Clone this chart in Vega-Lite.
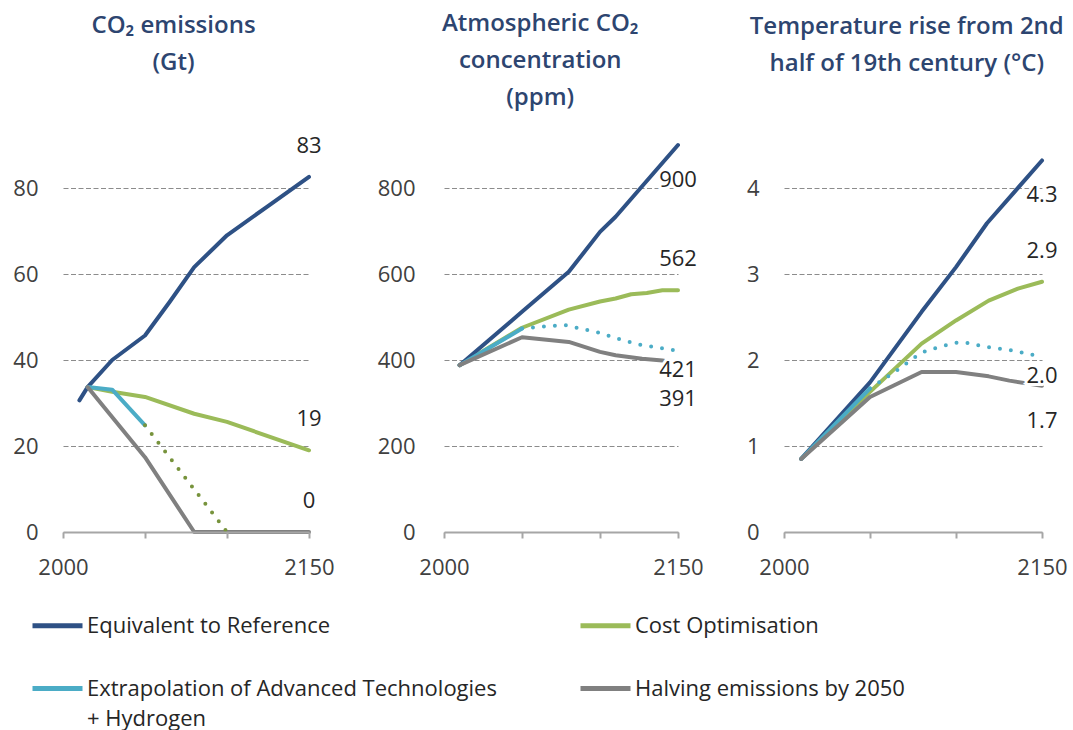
{
  "$schema": "https://vega.github.io/schema/vega-lite/v6.json",
  "background": "white",
  "padding": {"left": 12, "top": 12, "right": 5, "bottom": 2},
  "config": {
    "font": "Open Sans",
    "view": {"stroke": null},
    "concat": {"spacing": 42},
    "style": {"guide-label": {"lineHeight": 30}},
    "axis": {"title": null, "labelFont": "Open Sans", "labelFontSize": 22, "labelColor": "#404040"},
    "title": {"font": "Open Sans", "fontSize": 24, "fontWeight": 600, "color": "#2d4570", "anchor": "middle", "frame": "bounds", "lineHeight": 37},
    "legend": {"labelFont": "Open Sans", "labelFontSize": 22, "labelColor": "#262626"}
  },
  "datasets": {
    "lines": [
      {"panel": "co2", "series": "Cost Optimisation", "part": "main", "year": 2015, "value": 33.7},
      {"panel": "co2", "series": "Cost Optimisation", "part": "main", "year": 2030, "value": 32.6},
      {"panel": "co2", "series": "Cost Optimisation", "part": "main", "year": 2050, "value": 31.4},
      {"panel": "co2", "series": "Cost Optimisation", "part": "main", "year": 2080, "value": 27.5},
      {"panel": "co2", "series": "Cost Optimisation", "part": "main", "year": 2100, "value": 25.6},
      {"panel": "co2", "series": "Cost Optimisation", "part": "main", "year": 2150, "value": 19},
      {"panel": "co2", "series": "Equivalent to Reference", "part": "main", "year": 2010, "value": 30.6},
      {"panel": "co2", "series": "Equivalent to Reference", "part": "main", "year": 2015, "value": 33.7},
      {"panel": "co2", "series": "Equivalent to Reference", "part": "main", "year": 2030, "value": 40},
      {"panel": "co2", "series": "Equivalent to Reference", "part": "main", "year": 2050, "value": 45.7},
      {"panel": "co2", "series": "Equivalent to Reference", "part": "main", "year": 2065, "value": 53.5},
      {"panel": "co2", "series": "Equivalent to Reference", "part": "main", "year": 2080, "value": 61.6},
      {"panel": "co2", "series": "Equivalent to Reference", "part": "main", "year": 2100, "value": 69},
      {"panel": "co2", "series": "Equivalent to Reference", "part": "main", "year": 2125, "value": 75.8},
      {"panel": "co2", "series": "Equivalent to Reference", "part": "main", "year": 2150, "value": 82.6},
      {"panel": "co2", "series": "Extrapolation of Advanced Technologies + Hydrogen", "part": "main", "year": 2015, "value": 33.7},
      {"panel": "co2", "series": "Extrapolation of Advanced Technologies + Hydrogen", "part": "main", "year": 2030, "value": 33.1},
      {"panel": "co2", "series": "Extrapolation of Advanced Technologies + Hydrogen", "part": "main", "year": 2050, "value": 24.8},
      {"panel": "co2", "series": "Extrapolation of Advanced Technologies + Hydrogen", "part": "projection", "year": 2050, "value": 24.8},
      {"panel": "co2", "series": "Extrapolation of Advanced Technologies + Hydrogen", "part": "projection", "year": 2100, "value": 0},
      {"panel": "co2", "series": "Halving emissions by 2050", "part": "main", "year": 2015, "value": 33.7},
      {"panel": "co2", "series": "Halving emissions by 2050", "part": "main", "year": 2050, "value": 17.4},
      {"panel": "co2", "series": "Halving emissions by 2050", "part": "main", "year": 2080, "value": 0},
      {"panel": "co2", "series": "Halving emissions by 2050", "part": "main", "year": 2150, "value": 0},

      {"panel": "ppm", "series": "Cost Optimisation", "part": "main", "year": 2010, "value": 388},
      {"panel": "ppm", "series": "Cost Optimisation", "part": "main", "year": 2050, "value": 475},
      {"panel": "ppm", "series": "Cost Optimisation", "part": "main", "year": 2080, "value": 517},
      {"panel": "ppm", "series": "Cost Optimisation", "part": "main", "year": 2100, "value": 536},
      {"panel": "ppm", "series": "Cost Optimisation", "part": "main", "year": 2110, "value": 543},
      {"panel": "ppm", "series": "Cost Optimisation", "part": "main", "year": 2120, "value": 553},
      {"panel": "ppm", "series": "Cost Optimisation", "part": "main", "year": 2130, "value": 556},
      {"panel": "ppm", "series": "Cost Optimisation", "part": "main", "year": 2140, "value": 562},
      {"panel": "ppm", "series": "Cost Optimisation", "part": "main", "year": 2150, "value": 562},
      {"panel": "ppm", "series": "Equivalent to Reference", "part": "main", "year": 2010, "value": 388},
      {"panel": "ppm", "series": "Equivalent to Reference", "part": "main", "year": 2050, "value": 512},
      {"panel": "ppm", "series": "Equivalent to Reference", "part": "main", "year": 2080, "value": 605},
      {"panel": "ppm", "series": "Equivalent to Reference", "part": "main", "year": 2100, "value": 698},
      {"panel": "ppm", "series": "Equivalent to Reference", "part": "main", "year": 2110, "value": 733},
      {"panel": "ppm", "series": "Equivalent to Reference", "part": "main", "year": 2150, "value": 900},
      {"panel": "ppm", "series": "Extrapolation of Advanced Technologies + Hydrogen", "part": "main", "year": 2010, "value": 388},
      {"panel": "ppm", "series": "Extrapolation of Advanced Technologies + Hydrogen", "part": "main", "year": 2050, "value": 473},
      {"panel": "ppm", "series": "Extrapolation of Advanced Technologies + Hydrogen", "part": "projection", "year": 2050, "value": 473},
      {"panel": "ppm", "series": "Extrapolation of Advanced Technologies + Hydrogen", "part": "projection", "year": 2065, "value": 478},
      {"panel": "ppm", "series": "Extrapolation of Advanced Technologies + Hydrogen", "part": "projection", "year": 2078, "value": 481},
      {"panel": "ppm", "series": "Extrapolation of Advanced Technologies + Hydrogen", "part": "projection", "year": 2090, "value": 471},
      {"panel": "ppm", "series": "Extrapolation of Advanced Technologies + Hydrogen", "part": "projection", "year": 2100, "value": 463},
      {"panel": "ppm", "series": "Extrapolation of Advanced Technologies + Hydrogen", "part": "projection", "year": 2112, "value": 449},
      {"panel": "ppm", "series": "Extrapolation of Advanced Technologies + Hydrogen", "part": "projection", "year": 2125, "value": 436},
      {"panel": "ppm", "series": "Extrapolation of Advanced Technologies + Hydrogen", "part": "projection", "year": 2140, "value": 427},
      {"panel": "ppm", "series": "Extrapolation of Advanced Technologies + Hydrogen", "part": "projection", "year": 2150, "value": 421},
      {"panel": "ppm", "series": "Halving emissions by 2050", "part": "main", "year": 2010, "value": 388},
      {"panel": "ppm", "series": "Halving emissions by 2050", "part": "main", "year": 2050, "value": 453},
      {"panel": "ppm", "series": "Halving emissions by 2050", "part": "main", "year": 2080, "value": 442},
      {"panel": "ppm", "series": "Halving emissions by 2050", "part": "main", "year": 2100, "value": 419},
      {"panel": "ppm", "series": "Halving emissions by 2050", "part": "main", "year": 2110, "value": 411},
      {"panel": "ppm", "series": "Halving emissions by 2050", "part": "main", "year": 2127, "value": 403},
      {"panel": "ppm", "series": "Halving emissions by 2050", "part": "main", "year": 2140, "value": 399},
      {"panel": "ppm", "series": "Halving emissions by 2050", "part": "main", "year": 2150, "value": 392},

      {"panel": "temp", "series": "Cost Optimisation", "part": "main", "year": 2010, "value": 0.85},
      {"panel": "temp", "series": "Cost Optimisation", "part": "main", "year": 2050, "value": 1.63},
      {"panel": "temp", "series": "Cost Optimisation", "part": "main", "year": 2080, "value": 2.19},
      {"panel": "temp", "series": "Cost Optimisation", "part": "main", "year": 2100, "value": 2.46},
      {"panel": "temp", "series": "Cost Optimisation", "part": "main", "year": 2119, "value": 2.69},
      {"panel": "temp", "series": "Cost Optimisation", "part": "main", "year": 2136, "value": 2.83},
      {"panel": "temp", "series": "Cost Optimisation", "part": "main", "year": 2150, "value": 2.91},
      {"panel": "temp", "series": "Equivalent to Reference", "part": "main", "year": 2010, "value": 0.85},
      {"panel": "temp", "series": "Equivalent to Reference", "part": "main", "year": 2050, "value": 1.74},
      {"panel": "temp", "series": "Equivalent to Reference", "part": "main", "year": 2080, "value": 2.56},
      {"panel": "temp", "series": "Equivalent to Reference", "part": "main", "year": 2100, "value": 3.08},
      {"panel": "temp", "series": "Equivalent to Reference", "part": "main", "year": 2118, "value": 3.59},
      {"panel": "temp", "series": "Equivalent to Reference", "part": "main", "year": 2150, "value": 4.32},
      {"panel": "temp", "series": "Extrapolation of Advanced Technologies + Hydrogen", "part": "main", "year": 2010, "value": 0.85},
      {"panel": "temp", "series": "Extrapolation of Advanced Technologies + Hydrogen", "part": "main", "year": 2050, "value": 1.67},
      {"panel": "temp", "series": "Extrapolation of Advanced Technologies + Hydrogen", "part": "projection", "year": 2050, "value": 1.67},
      {"panel": "temp", "series": "Extrapolation of Advanced Technologies + Hydrogen", "part": "projection", "year": 2065, "value": 1.87},
      {"panel": "temp", "series": "Extrapolation of Advanced Technologies + Hydrogen", "part": "projection", "year": 2076, "value": 2.03},
      {"panel": "temp", "series": "Extrapolation of Advanced Technologies + Hydrogen", "part": "projection", "year": 2082, "value": 2.1},
      {"panel": "temp", "series": "Extrapolation of Advanced Technologies + Hydrogen", "part": "projection", "year": 2090, "value": 2.15},
      {"panel": "temp", "series": "Extrapolation of Advanced Technologies + Hydrogen", "part": "projection", "year": 2100, "value": 2.2},
      {"panel": "temp", "series": "Extrapolation of Advanced Technologies + Hydrogen", "part": "projection", "year": 2106, "value": 2.2},
      {"panel": "temp", "series": "Extrapolation of Advanced Technologies + Hydrogen", "part": "projection", "year": 2118, "value": 2.15},
      {"panel": "temp", "series": "Extrapolation of Advanced Technologies + Hydrogen", "part": "projection", "year": 2130, "value": 2.12},
      {"panel": "temp", "series": "Extrapolation of Advanced Technologies + Hydrogen", "part": "projection", "year": 2143, "value": 2.07},
      {"panel": "temp", "series": "Extrapolation of Advanced Technologies + Hydrogen", "part": "projection", "year": 2150, "value": 2.03},
      {"panel": "temp", "series": "Halving emissions by 2050", "part": "main", "year": 2010, "value": 0.85},
      {"panel": "temp", "series": "Halving emissions by 2050", "part": "main", "year": 2050, "value": 1.57},
      {"panel": "temp", "series": "Halving emissions by 2050", "part": "main", "year": 2080, "value": 1.86},
      {"panel": "temp", "series": "Halving emissions by 2050", "part": "main", "year": 2100, "value": 1.86},
      {"panel": "temp", "series": "Halving emissions by 2050", "part": "main", "year": 2119, "value": 1.81},
      {"panel": "temp", "series": "Halving emissions by 2050", "part": "main", "year": 2131, "value": 1.76},
      {"panel": "temp", "series": "Halving emissions by 2050", "part": "main", "year": 2150, "value": 1.7}
    ],
    "labels": [
      {"panel": "co2", "series": "Equivalent to Reference", "year": 2150, "value": 82.6, "text": "83"},
      {"panel": "co2", "series": "Cost Optimisation", "year": 2150, "value": 19, "text": "19"},
      {"panel": "co2", "series": "Halving emissions by 2050", "year": 2150, "value": 0, "text": "0"},
      {"panel": "ppm", "series": "Equivalent to Reference", "year": 2150, "value": 900, "text": "900"},
      {"panel": "ppm", "series": "Cost Optimisation", "year": 2150, "value": 562, "text": "562"},
      {"panel": "ppm", "series": "Extrapolation of Advanced Technologies + Hydrogen", "year": 2150, "value": 421, "text": "421"},
      {"panel": "ppm", "series": "Halving emissions by 2050", "year": 2150, "value": 391, "text": "391"},
      {"panel": "temp", "series": "Equivalent to Reference", "year": 2150, "value": 4.32, "text": "4.3"},
      {"panel": "temp", "series": "Cost Optimisation", "year": 2150, "value": 2.91, "text": "2.9"},
      {"panel": "temp", "series": "Extrapolation of Advanced Technologies + Hydrogen", "year": 2150, "value": 2.03, "text": "2.0"},
      {"panel": "temp", "series": "Halving emissions by 2050", "year": 2150, "value": 1.7, "text": "1.7"}
    ]
  },
  "hconcat": [
    {
      "width": 246,
      "height": 387,
      "title": {"text": ["CO₂ emissions", "(Gt)", " "], "offset": 23},
      "encoding": {
        "x": {"field": "year", "type": "quantitative", "scale": {"domain": [2000, 2150], "nice": false, "zero": false},
          "axis": {"values": [2000, 2050, 2100, 2150], "labelExpr": "(datum.value == 2000 || datum.value == 2150) ? '' + datum.value : ''", "grid": false, "domainColor": "#a6a6a6", "domainWidth": 2, "tickColor": "#a6a6a6", "tickWidth": 2, "tickSize": 6, "labelPadding": 19, "labelFlush": false, "labelOverlap": false, "zindex": 1}},
        "y": {"field": "value", "type": "quantitative", "scale": {"domain": [0, 90], "nice": false},
          "axis": {"values": [0, 20, 40, 60, 80], "grid": true, "gridDash": [5, 2.5], "gridColor": "#8c8c8c", "gridWidth": 1.2, "domain": false, "ticks": false, "labelPadding": 25}}
      },
      "layer": [
        {
          "data": {"name": "lines"},
          "transform": [{"filter": "datum.panel == 'co2' && datum.part == 'main'"}],
          "mark": {"type": "line", "strokeWidth": 4, "strokeCap": "round", "strokeJoin": "round"},
          "encoding": {
            "color": {"field": "series", "type": "nominal",
              "scale": {"domain": ["Equivalent to Reference", "Cost Optimisation", "Extrapolation of Advanced Technologies + Hydrogen", "Halving emissions by 2050"], "range": ["#2e5185", "#9bbb59", "#4bacc6", "#808080"]},
              "legend": {"title": null, "orient": "none", "legendX": -33, "legendY": 453, "direction": "horizontal", "columns": 2, "symbolType": "stroke", "symbolSize": 2500, "symbolStrokeWidth": 5, "labelOffset": 2, "columnPadding": 73, "rowPadding": 24, "labelLimit": 700,
                "labelExpr": "datum.label == 'Extrapolation of Advanced Technologies + Hydrogen' ? ['Extrapolation of Advanced Technologies', '+ Hydrogen'] : datum.label"}}
          }
        },
        {
          "data": {"name": "lines"},
          "transform": [{"filter": "datum.panel == 'co2' && datum.part == 'projection'"}],
          "mark": {"type": "line", "strokeWidth": 4, "strokeCap": "round", "strokeDash": [0, 11], "color": "#77933c"}
        },
        {
          "data": {"name": "labels"},
          "transform": [{"filter": "datum.panel == 'co2'"}],
          "mark": {"type": "text", "fontSize": 22, "dy": -31, "fill": "white", "stroke": "white", "strokeWidth": 6},
          "encoding": {"text": {"field": "text"}}
        },
        {
          "data": {"name": "labels"},
          "transform": [{"filter": "datum.panel == 'co2'"}],
          "mark": {"type": "text", "fontSize": 22, "dy": -31, "fill": "#262626"},
          "encoding": {"text": {"field": "text"}}
        }
      ]
    },
    {
      "width": 234,
      "height": 387,
      "title": {"text": ["Atmospheric CO₂", "concentration", "(ppm)"], "offset": 33},
      "encoding": {
        "x": {"field": "year", "type": "quantitative", "scale": {"domain": [2000, 2150], "nice": false, "zero": false},
          "axis": {"values": [2000, 2050, 2100, 2150], "labelExpr": "(datum.value == 2000 || datum.value == 2150) ? '' + datum.value : ''", "grid": false, "domainColor": "#a6a6a6", "domainWidth": 2, "tickColor": "#a6a6a6", "tickWidth": 2, "tickSize": 6, "labelPadding": 19, "labelFlush": false, "labelOverlap": false, "zindex": 1}},
        "y": {"field": "value", "type": "quantitative", "scale": {"domain": [0, 900], "nice": false},
          "axis": {"values": [0, 200, 400, 600, 800], "grid": true, "gridDash": [5, 2.5], "gridColor": "#8c8c8c", "gridWidth": 1.2, "domain": false, "ticks": false, "labelPadding": 29}}
      },
      "layer": [
        {
          "data": {"name": "lines"},
          "transform": [{"filter": "datum.panel == 'ppm' && datum.part == 'main'"}],
          "mark": {"type": "line", "strokeWidth": 4, "strokeCap": "round", "strokeJoin": "round"},
          "encoding": {
            "color": {"field": "series", "type": "nominal",
              "scale": {"domain": ["Equivalent to Reference", "Cost Optimisation", "Extrapolation of Advanced Technologies + Hydrogen", "Halving emissions by 2050"], "range": ["#2e5185", "#9bbb59", "#4bacc6", "#808080"]},
              "legend": {"title": null, "orient": "none", "legendX": -33, "legendY": 453, "direction": "horizontal", "columns": 2, "symbolType": "stroke", "symbolSize": 2500, "symbolStrokeWidth": 5, "labelOffset": 2, "columnPadding": 73, "rowPadding": 24, "labelLimit": 700,
                "labelExpr": "datum.label == 'Extrapolation of Advanced Technologies + Hydrogen' ? ['Extrapolation of Advanced Technologies', '+ Hydrogen'] : datum.label"}}
          }
        },
        {
          "data": {"name": "lines"},
          "transform": [{"filter": "datum.panel == 'ppm' && datum.part == 'projection'"}],
          "mark": {"type": "line", "strokeWidth": 4, "strokeCap": "round", "strokeDash": [0, 11], "color": "#4bacc6"}
        },
        {
          "data": {"name": "labels"},
          "transform": [{"filter": "datum.panel == 'ppm' && datum.series == 'Cost Optimisation'"}],
          "mark": {"type": "text", "fontSize": 22, "dy": -31, "fill": "white", "stroke": "white", "strokeWidth": 6},
          "encoding": {"text": {"field": "text"}}
        },
        {
          "data": {"name": "labels"},
          "transform": [{"filter": "datum.panel == 'ppm' && datum.series == 'Cost Optimisation'"}],
          "mark": {"type": "text", "fontSize": 22, "dy": -31, "fill": "#262626"},
          "encoding": {"text": {"field": "text"}}
        },
        {
          "data": {"name": "labels"},
          "transform": [{"filter": "datum.panel == 'ppm' && (datum.series == 'Equivalent to Reference' || datum.series == 'Halving emissions by 2050')"}],
          "mark": {"type": "text", "fontSize": 22, "dy": 35, "fill": "white", "stroke": "white", "strokeWidth": 6},
          "encoding": {"text": {"field": "text"}}
        },
        {
          "data": {"name": "labels"},
          "transform": [{"filter": "datum.panel == 'ppm' && (datum.series == 'Equivalent to Reference' || datum.series == 'Halving emissions by 2050')"}],
          "mark": {"type": "text", "fontSize": 22, "dy": 35, "fill": "#262626"},
          "encoding": {"text": {"field": "text"}}
        },
        {
          "data": {"name": "labels"},
          "transform": [{"filter": "datum.panel == 'ppm' && datum.series == 'Extrapolation of Advanced Technologies + Hydrogen'"}],
          "mark": {"type": "text", "fontSize": 22, "dy": 19, "fill": "white", "stroke": "white", "strokeWidth": 6},
          "encoding": {"text": {"field": "text"}}
        },
        {
          "data": {"name": "labels"},
          "transform": [{"filter": "datum.panel == 'ppm' && datum.series == 'Extrapolation of Advanced Technologies + Hydrogen'"}],
          "mark": {"type": "text", "fontSize": 22, "dy": 19, "fill": "#262626"},
          "encoding": {"text": {"field": "text"}}
        }
      ]
    },
    {
      "width": 258,
      "height": 387,
      "title": {"text": ["Temperature rise from 2nd", "half of 19th century (°C)", " "], "offset": 32},
      "encoding": {
        "x": {"field": "year", "type": "quantitative", "scale": {"domain": [2000, 2150], "nice": false, "zero": false},
          "axis": {"values": [2000, 2050, 2100, 2150], "labelExpr": "(datum.value == 2000 || datum.value == 2150) ? '' + datum.value : ''", "grid": false, "domainColor": "#a6a6a6", "domainWidth": 2, "tickColor": "#a6a6a6", "tickWidth": 2, "tickSize": 6, "labelPadding": 19, "labelFlush": false, "labelOverlap": false, "zindex": 1}},
        "y": {"field": "value", "type": "quantitative", "scale": {"domain": [0, 4.5], "nice": false},
          "axis": {"values": [0, 1, 2, 3, 4], "grid": true, "gridDash": [5, 2.5], "gridColor": "#8c8c8c", "gridWidth": 1.2, "domain": false, "ticks": false, "labelPadding": 25}}
      },
      "layer": [
        {
          "data": {"name": "lines"},
          "transform": [{"filter": "datum.panel == 'temp' && datum.part == 'main'"}],
          "mark": {"type": "line", "strokeWidth": 4, "strokeCap": "round", "strokeJoin": "round"},
          "encoding": {
            "color": {"field": "series", "type": "nominal",
              "scale": {"domain": ["Equivalent to Reference", "Cost Optimisation", "Extrapolation of Advanced Technologies + Hydrogen", "Halving emissions by 2050"], "range": ["#2e5185", "#9bbb59", "#4bacc6", "#808080"]},
              "legend": {"title": null, "orient": "none", "legendX": -33, "legendY": 453, "direction": "horizontal", "columns": 2, "symbolType": "stroke", "symbolSize": 2500, "symbolStrokeWidth": 5, "labelOffset": 2, "columnPadding": 73, "rowPadding": 24, "labelLimit": 700,
                "labelExpr": "datum.label == 'Extrapolation of Advanced Technologies + Hydrogen' ? ['Extrapolation of Advanced Technologies', '+ Hydrogen'] : datum.label"}}
          }
        },
        {
          "data": {"name": "lines"},
          "transform": [{"filter": "datum.panel == 'temp' && datum.part == 'projection'"}],
          "mark": {"type": "line", "strokeWidth": 4, "strokeCap": "round", "strokeDash": [0, 11], "color": "#4bacc6"}
        },
        {
          "data": {"name": "labels"},
          "transform": [{"filter": "datum.panel == 'temp' && datum.series == 'Cost Optimisation'"}],
          "mark": {"type": "text", "fontSize": 22, "dy": -31, "fill": "white", "stroke": "white", "strokeWidth": 6},
          "encoding": {"text": {"field": "text"}}
        },
        {
          "data": {"name": "labels"},
          "transform": [{"filter": "datum.panel == 'temp' && datum.series == 'Cost Optimisation'"}],
          "mark": {"type": "text", "fontSize": 22, "dy": -31, "fill": "#262626"},
          "encoding": {"text": {"field": "text"}}
        },
        {
          "data": {"name": "labels"},
          "transform": [{"filter": "datum.panel == 'temp' && (datum.series == 'Equivalent to Reference' || datum.series == 'Halving emissions by 2050')"}],
          "mark": {"type": "text", "fontSize": 22, "dy": 35, "fill": "white", "stroke": "white", "strokeWidth": 6},
          "encoding": {"text": {"field": "text"}}
        },
        {
          "data": {"name": "labels"},
          "transform": [{"filter": "datum.panel == 'temp' && (datum.series == 'Equivalent to Reference' || datum.series == 'Halving emissions by 2050')"}],
          "mark": {"type": "text", "fontSize": 22, "dy": 35, "fill": "#262626"},
          "encoding": {"text": {"field": "text"}}
        },
        {
          "data": {"name": "labels"},
          "transform": [{"filter": "datum.panel == 'temp' && datum.series == 'Extrapolation of Advanced Technologies + Hydrogen'"}],
          "mark": {"type": "text", "fontSize": 22, "dy": 19, "fill": "white", "stroke": "white", "strokeWidth": 6},
          "encoding": {"text": {"field": "text"}}
        },
        {
          "data": {"name": "labels"},
          "transform": [{"filter": "datum.panel == 'temp' && datum.series == 'Extrapolation of Advanced Technologies + Hydrogen'"}],
          "mark": {"type": "text", "fontSize": 22, "dy": 19, "fill": "#262626"},
          "encoding": {"text": {"field": "text"}}
        }
      ]
    }
  ],
  "resolve": {"scale": {"color": "shared"}}
}
